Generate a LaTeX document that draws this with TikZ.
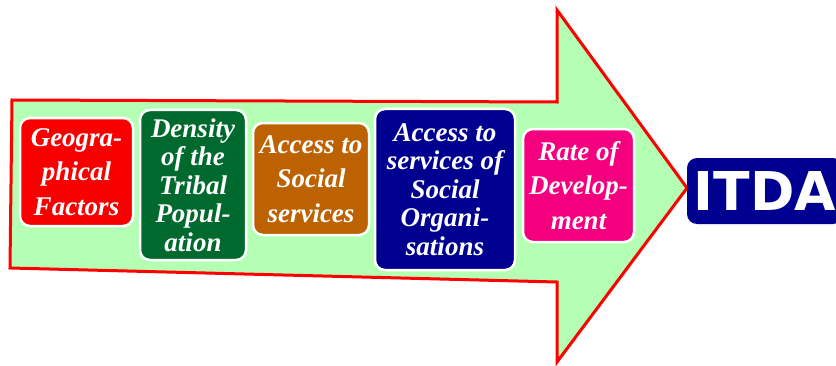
\documentclass[tikz,border=0pt]{standalone}
\usepackage{fontspec}
\setmainfont{Liberation Serif}
\newfontfamily\itdafont{DejaVu Sans}
\usetikzlibrary{arrows}
\definecolor{bandgreen}{HTML}{B4FFB4}
\definecolor{bandred}{HTML}{FF0000}
\definecolor{geored}{HTML}{F80000}
\definecolor{densgreen}{HTML}{006A2E}
\definecolor{accbrown}{HTML}{BC6200}
\definecolor{orgnavy}{HTML}{000090}
\definecolor{ratepink}{HTML}{F4007F}
\tikzstyle{factor} = [rectangle, rounded corners=10pt, draw=white, line width=2.5pt, text=white, align=center, inner sep=0pt, font={\fontsize{27}{34.5}\selectfont\bfseries\itshape}]
\tikzstyle{tallfactor} = [factor, font={\fontsize{27}{28.5}\selectfont\bfseries\itshape}]
\tikzstyle{goal} = [rectangle, rounded corners=10pt, fill=orgnavy, text=white, inner sep=0pt, minimum width=156pt, minimum height=66pt, font={\fontsize{53.5}{54}\selectfont\itdafont\bfseries}]

\begin{document}
\begin{tikzpicture}[x=1pt, y=1pt, node distance=118pt]
		\clip (0,0) rectangle (836,365);
		% big arrow behind the boxes
		\draw[bandred, line width=3pt, fill=bandgreen, line join=miter]
			(12,265) -- (557,263) -- (557,355) -- (687,177) -- (557,3) -- (557,83) -- (10,97) -- cycle;
		\node (geo) [factor, fill=geored, minimum width=113pt, minimum height=108pt] at (76.5,193) {Geogra-\\phical\\Factors};
		\node (density) [tallfactor, fill=densgreen, minimum width=106pt, minimum height=150pt, right of=geo, xshift=-1.5pt, yshift=-13pt] {Density\\of the\\Tribal\\Popul-\\ation};
		\node (social) [factor, fill=accbrown, minimum width=116pt, minimum height=112pt, right of=density, yshift=6pt] {Access to\\Social\\services};
		\node (orgs) [tallfactor, fill=orgnavy, minimum width=140pt, minimum height=161pt, right of=social, xshift=16pt, yshift=-10.5pt] {Access to\\services of\\Social\\Organi-\\sations};
		\node (rate) [factor, fill=ratepink, minimum width=111pt, minimum height=113pt, right of=orgs, xshift=15.5pt, yshift=4pt] {Rate of\\Develop-\\ment};
		\node (itda) [goal, right of=rate, xshift=68.5pt, yshift=-5.5pt] {ITDA};
	\end{tikzpicture}
\end{document}
